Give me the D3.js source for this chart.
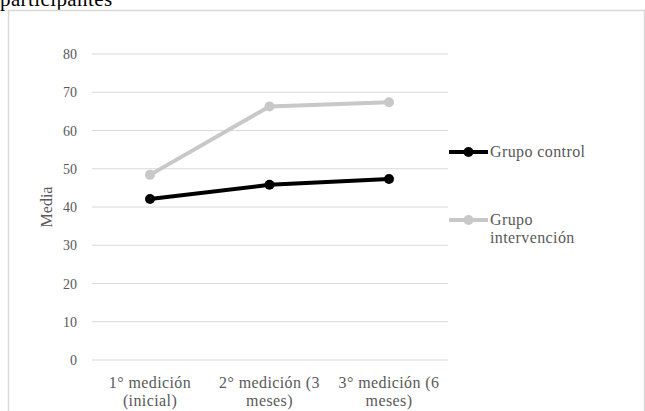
<!DOCTYPE html>
<html>
<head>
<meta charset="utf-8">
<script src="https://cdn.jsdelivr.net/npm/d3@7"></script>
<style>
  body { margin: 0; background: #fff; }
  svg { display: block; font-family: "Liberation Serif", "Times New Roman", serif; }
</style>
</head>
<body>
<div id="chart"></div>
<script>
// data
var categories = [["1° medición", "(inicial)"], ["2° medición (3", "meses)"], ["3° medición (6", "meses)"]];
var grupoControl = [42.1, 45.8, 47.3];
var grupoIntervencion = [48.4, 66.3, 67.4];
var yTicks = [0, 10, 20, 30, 40, 50, 60, 70, 80];
var seriesNames = [["Grupo control"], ["Grupo", "intervención"]];

var W = 645, H = 411;

var svg = d3.select("#chart").append("svg")
    .attr("width", W)
    .attr("height", H);

// cut-off title above the frame
svg.append("text")
    .attr("x", 0).attr("y", 6)
    .attr("font-size", 21)
    .attr("letter-spacing", 0.4)
    .attr("fill", "#000")
    .text("participantes");

// chart frame
svg.append("rect")
    .attr("x", 8.5).attr("y", 10.5)
    .attr("width", 636).attr("height", 420)
    .attr("fill", "none")
    .attr("stroke", "#d9d9d9")
    .attr("stroke-width", 1.5);

var x = d3.scalePoint()
    .domain(d3.range(categories.length))
    .range([150, 389]);

var y = d3.scaleLinear()
    .domain([0, 80])
    .range([360, 54]);

// gridlines
svg.append("g")
  .selectAll("line")
  .data(yTicks)
  .enter().append("line")
    .attr("x1", 92).attr("x2", 448)
    .attr("y1", function(d) { return y(d); })
    .attr("y2", function(d) { return y(d); })
    .attr("stroke", "#d9d9d9")
    .attr("stroke-width", 1);

// y tick labels
svg.append("g")
  .selectAll("text")
  .data(yTicks)
  .enter().append("text")
    .attr("x", 77)
    .attr("y", function(d) { return y(d) + 5; })
    .attr("text-anchor", "end")
    .attr("font-size", 14)
    .attr("fill", "#595959")
    .text(function(d) { return d; });

// y axis title
svg.append("text")
    .attr("transform", "translate(52,207) rotate(-90)")
    .attr("text-anchor", "middle")
    .attr("font-size", 16)
    .attr("fill", "#595959")
    .text("Media");

// x labels
var xl = svg.append("g")
  .selectAll("text")
  .data(categories)
  .enter().append("text")
    .attr("text-anchor", "middle")
    .attr("font-size", 16)
    .attr("letter-spacing", 0.4)
    .attr("fill", "#595959");
xl.selectAll("tspan")
  .data(function(d, i) { return d.map(function(s) { return {s: s, i: i}; }); })
  .enter().append("tspan")
    .attr("x", function(d) { return x(d.i); })
    .attr("y", function(d, j) { return 388 + j * 18; })
    .text(function(d) { return d.s; });

var line = d3.line()
    .x(function(d, i) { return x(i); })
    .y(function(d) { return y(d); });

var series = [
  {name: seriesNames[0], values: grupoControl, color: "#000000"},
  {name: seriesNames[1], values: grupoIntervencion, color: "#c8c8c8"}
];

// draw intervention first so control sits on top
series.slice().reverse().forEach(function(s) {
  svg.append("path")
    .datum(s.values)
    .attr("d", line)
    .attr("fill", "none")
    .attr("stroke", s.color)
    .attr("stroke-width", 4);
  svg.selectAll(null)
    .data(s.values)
    .enter().append("circle")
      .attr("cx", function(d, i) { return x(i); })
      .attr("cy", function(d) { return y(d); })
      .attr("r", 5)
      .attr("fill", s.color);
});

// legend
var legendY = [152, 220];
series.forEach(function(s, k) {
  var g = svg.append("g").attr("transform", "translate(0," + legendY[k] + ")");
  g.append("line")
    .attr("x1", 449).attr("x2", 488)
    .attr("stroke", s.color)
    .attr("stroke-width", 4);
  g.append("circle")
    .attr("cx", 468.5).attr("r", 5)
    .attr("fill", s.color);
  var t = g.append("text")
    .attr("font-size", 16)
    .attr("letter-spacing", 0.4)
    .attr("fill", "#595959");
  t.selectAll("tspan")
    .data(s.name)
    .enter().append("tspan")
      .attr("x", 490)
      .attr("y", function(d, j) { return 5 + j * 18; })
      .text(function(d) { return d; });
});
</script>
</body>
</html>
